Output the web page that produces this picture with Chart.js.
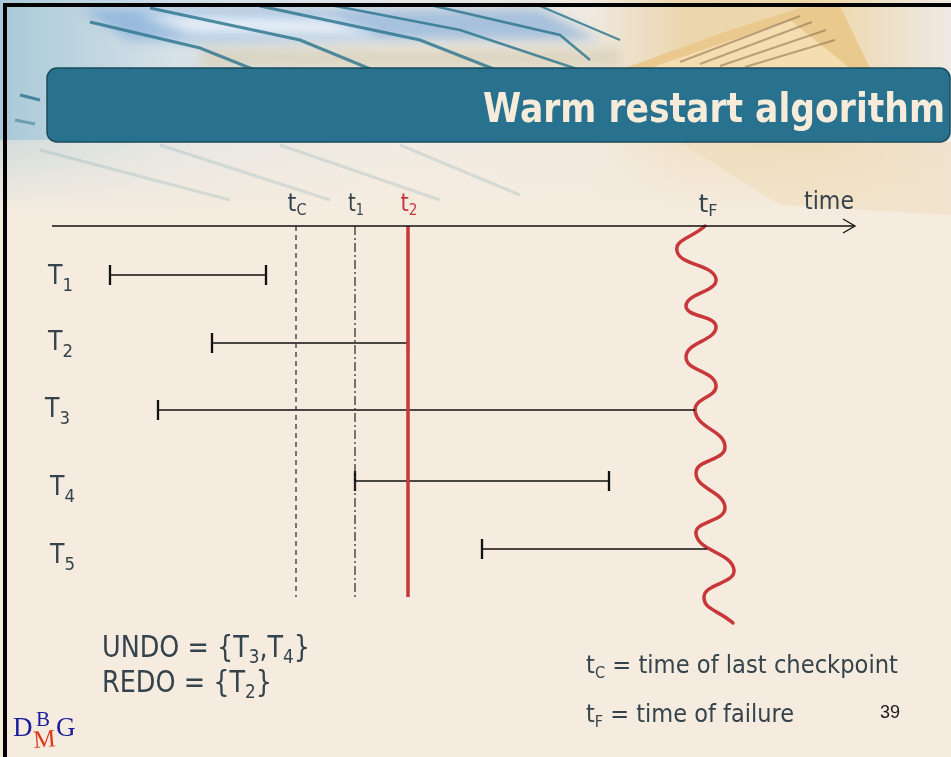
<!DOCTYPE html>
<html><head><meta charset="utf-8">
<script src="https://cdn.jsdelivr.net/npm/chart.js@4.4.1/dist/chart.umd.min.js"></script>
<style>html,body{margin:0;padding:0;background:#F5ECDF;overflow:hidden}canvas{display:block}</style>
</head><body>
<canvas id="c" width="951" height="757"></canvas>
<script>
// ---- data (time units = horizontal position on the time axis, lanes = vertical position) ----
const transactions = ['T1', 'T2', 'T3', 'T4', 'T5'];
const txStart = [110, 212, 158, 355, 482];
const txEnd   = [266, 408, 695, 609, 707];
const txLane  = [275, 343, 410, 481, 549];
const txCommitted = [true, true, false, true, false]; // end tick drawn when the transaction ended before failure
const markerNames = ['tC', 't1', 't2'];
const markerTimes = [296, 355, 408];
const failureName = 'tF';
const failureTime = 705;
const axisRange = [52, 855];
const axisLane = 226;
const markerBottomLane = 597;
const failureWaveX = [705, 677, 716, 686, 716, 686, 716, 695, 725, 696, 725, 696, 734, 704, 733];
const failureWaveY = [226, 251, 279, 306, 327, 357, 385, 411, 447, 473, 508, 534, 570, 597, 623];
const undoSet = ['T3', 'T4'];
const redoSet = ['T2'];
const slideTitle = 'Warm restart algorithm';
const legendLines = [['tC', 'time of last checkpoint'], ['tF', 'time of failure']];
const pageNumber = '39';

// ---- styles ----
const RED = '#C8373A';
const INK = '#34434C';
const FONT = 'DejaVu Sans';

const datasets = [];
// time axis
datasets.push({ data: [{x: axisRange[0], y: axisLane}, {x: axisRange[1], y: axisLane}],
  borderColor: '#111', borderWidth: 1.3, pointRadius: 0 });
// arrow head
datasets.push({ data: [{x: axisRange[1] - 12, y: axisLane - 7}, {x: axisRange[1], y: axisLane}, {x: axisRange[1] - 12, y: axisLane + 7}],
  borderColor: '#111', borderWidth: 1.3, pointRadius: 0 });
// checkpoint / marker lines
const markerStyles = [
  { borderColor: '#333', borderWidth: 1.3, borderDash: [5, 4] },
  { borderColor: '#333', borderWidth: 1.3, borderDash: [9, 3, 2, 3] },
  { borderColor: RED, borderWidth: 3.5, borderDash: [] }
];
markerTimes.forEach((t, i) => {
  datasets.push(Object.assign({ data: [{x: t, y: axisLane}, {x: t, y: markerBottomLane}], pointRadius: 0 }, markerStyles[i]));
});
// transactions
transactions.forEach((name, i) => {
  datasets.push({
    data: [{x: txStart[i], y: txLane[i]}, {x: txEnd[i], y: txLane[i]}],
    borderColor: '#111', borderWidth: 1.6,
    pointStyle: 'line', rotation: 90,
    pointRadius: [10, txCommitted[i] ? 10 : 0],
    pointBorderColor: '#111', pointBorderWidth: 2.3
  });
});
// failure wave
datasets.push({
  data: failureWaveX.map((x, i) => ({x, y: failureWaveY[i]})),
  borderColor: RED, borderWidth: 3.5, pointRadius: 0, tension: 0.5,
  borderCapStyle: 'round', borderJoinStyle: 'round'
});

function parseLabel(s) { return [{t: s[0]}, {t: s.slice(1), sub: true}]; }

function drawRich(ctx, parts, x, y, size, color, targetW, opts) {
  opts = opts || {};
  const fam = opts.family || FONT, weight = opts.weight || 'normal';
  const subR = opts.subRatio || 0.66, subOff = opts.subOff || 0.22;
  const widths = parts.map(p => {
    ctx.font = `${weight} ${p.sub ? size * subR : size}px "${fam}"`;
    return ctx.measureText(p.t).width;
  });
  const w = widths.reduce((a, b) => a + b, 0);
  const s = targetW ? targetW / w : 1;
  ctx.save();
  let x0 = x;
  if (opts.align === 'center') x0 = x - (targetW || w) / 2;
  if (opts.align === 'right') x0 = x - (targetW || w);
  ctx.translate(x0, y); ctx.scale(s, 1);
  ctx.textBaseline = 'alphabetic'; ctx.textAlign = 'left';
  let cx = 0;
  parts.forEach((p, i) => {
    ctx.font = `${weight} ${p.sub ? size * subR : size}px "${fam}"`;
    ctx.fillStyle = p.color || color;
    ctx.fillText(p.t, cx, p.sub ? size * subOff : 0);
    cx += widths[i];
  });
  ctx.restore();
}

function setParts(label, set) {
  const parts = [{t: label + ' = {'}];
  set.forEach((n, i) => {
    parts.push({t: n[0]}); parts.push({t: n.slice(1), sub: true});
    if (i < set.length - 1) parts.push({t: ','});
  });
  parts.push({t: '}'});
  return parts;
}

function stroke(ctx, pts, color, width) {
  ctx.strokeStyle = color; ctx.lineWidth = width;
  ctx.beginPath(); ctx.moveTo(pts[0], pts[1]);
  for (let i = 2; i < pts.length; i += 2) ctx.lineTo(pts[i], pts[i + 1]);
  ctx.stroke();
}

const backgroundPlugin = {
  id: 'slideBackground',
  beforeDraw(chart) {
    const ctx = chart.ctx;
    ctx.save();
    ctx.fillStyle = '#F5ECDF';
    ctx.fillRect(0, 0, 951, 757);
    // header photo impression
    let g = ctx.createLinearGradient(0, 0, 951, 0);
    g.addColorStop(0, '#A9C9D8');
    g.addColorStop(0.18, '#D6E1E8');
    g.addColorStop(0.4, '#ECEAE6');
    g.addColorStop(0.62, '#EFE9E0');
    g.addColorStop(0.72, '#EBD6AE');
    g.addColorStop(0.86, '#EED7A9');
    g.addColorStop(1, '#EDE9E3');
    ctx.fillStyle = g;
    ctx.fillRect(0, 0, 951, 210);
    // blurry pale-blue band (spreadsheet header)
    ctx.filter = 'blur(6px)';
    ctx.fillStyle = 'rgba(110,160,215,0.55)';
    ctx.beginPath(); ctx.moveTo(80, 8); ctx.lineTo(540, 8); ctx.lineTo(600, 40); ctx.lineTo(130, 40); ctx.closePath(); ctx.fill();
    ctx.fillStyle = 'rgba(255,255,255,0.75)';
    ctx.beginPath(); ctx.moveTo(140, 14); ctx.lineTo(330, 18); ctx.lineTo(380, 36); ctx.lineTo(190, 34); ctx.closePath(); ctx.fill();
    ctx.fillStyle = 'rgba(215,205,180,0.7)';
    ctx.fillRect(200, 48, 420, 20);
    ctx.filter = 'none';
    // fade into page colour below the bar
    let f = ctx.createLinearGradient(0, 140, 0, 215);
    f.addColorStop(0, 'rgba(245,236,223,0.55)');
    f.addColorStop(1, 'rgba(245,236,223,1)');
    ctx.fillStyle = f;
    ctx.fillRect(0, 140, 951, 75);
    // teal diagonal strokes
    const teal = 'rgba(40,115,140,0.8)';
    stroke(ctx, [90, 22, 200, 48, 330, 100], teal, 3);
    stroke(ctx, [150, 8, 300, 40, 470, 110], teal, 3);
    stroke(ctx, [260, 6, 420, 40, 560, 95], teal, 3);
    stroke(ctx, [330, 5, 460, 30, 640, 90], teal, 2.5);
    stroke(ctx, [430, 5, 560, 35, 590, 60], teal, 2.5);
    stroke(ctx, [540, 6, 620, 40], teal, 2);
    stroke(ctx, [20, 95, 40, 100], teal, 3);
    stroke(ctx, [15, 120, 35, 124], 'rgba(40,115,140,0.5)', 3);
    const faint = 'rgba(40,115,140,0.14)';
    [[40, 150, 230, 200], [160, 145, 330, 200], [280, 145, 440, 200], [400, 145, 520, 195]].forEach(l => stroke(ctx, l, faint, 3));
    // folders top right
    ctx.fillStyle = '#EAC98E';
    ctx.beginPath(); ctx.moveTo(625, 68); ctx.lineTo(730, 30); ctx.lineTo(800, 8); ctx.lineTo(840, 6); ctx.lineTo(870, 68); ctx.closePath(); ctx.fill();
    ctx.fillStyle = '#F4DDAE';
    ctx.beginPath(); ctx.moveTo(650, 68); ctx.lineTo(790, 20); ctx.lineTo(850, 68); ctx.closePath(); ctx.fill();
    [[680, 62, 800, 16], [700, 64, 812, 22], [720, 66, 826, 30], [745, 67, 835, 40]].forEach(l => stroke(ctx, l, 'rgba(140,105,80,0.55)', 2));
    ctx.fillStyle = 'rgba(235,212,170,0.35)';
    ctx.beginPath(); ctx.moveTo(680, 142); ctx.lineTo(951, 142); ctx.lineTo(951, 215); ctx.lineTo(780, 205); ctx.closePath(); ctx.fill();
    // title bar
    ctx.beginPath();
    ctx.roundRect(47, 68, 903, 74, 10);
    ctx.fillStyle = '#28718F';
    ctx.fill();
    ctx.strokeStyle = '#1B4B5C'; ctx.lineWidth = 1.5; ctx.stroke();
    // borders
    ctx.fillStyle = '#000';
    ctx.fillRect(3, 3, 948, 4);
    ctx.fillRect(3, 3, 4, 754);
    ctx.restore();
  },
  afterDraw(chart) {
    const ctx = chart.ctx;
    const xs = chart.scales.x, ys = chart.scales.y;
    // title
    drawRich(ctx, [{t: slideTitle}], 483, 122, 41, '#F6ECD9', 462, {weight: 'bold'});
    // marker labels
    const markerColors = [INK, INK, RED];
    markerNames.forEach((n, i) => {
      drawRich(ctx, parseLabel(n), xs.getPixelForValue(markerTimes[i]) + 1, 211, 25, markerColors[i], [19, 16, 17][i], {align: 'center', subRatio: 0.64, subOff: 0.17});
    });
    drawRich(ctx, parseLabel(failureName), xs.getPixelForValue(failureTime) + 3, 212, 25, INK, 19, {align: 'center', subRatio: 0.64, subOff: 0.17});
    drawRich(ctx, [{t: 'time'}], xs.getPixelForValue(axisRange[1]) - 1, 209, 25, INK, 50, {align: 'right'});
    // transaction labels
    const lx = [48, 48, 45, 50, 50];
    const off = [9, 7, 7, 14, 14];
    transactions.forEach((n, i) => {
      drawRich(ctx, parseLabel(n), lx[i], ys.getPixelForValue(txLane[i]) + off[i], 26, INK, 25, {subRatio: 0.7, subOff: 0.25});
    });
    // UNDO / REDO
    drawRich(ctx, setParts('UNDO', undoSet), 102, 657, 30, INK, 208, {subRatio: 0.66, subOff: 0.2});
    drawRich(ctx, setParts('REDO', redoSet), 102, 692, 30, INK, 170, {subRatio: 0.66, subOff: 0.2});
    // legend lines
    const lw = [312, 208], lb = [673, 722];
    legendLines.forEach((l, i) => {
      const parts = parseLabel(l[0]); parts.push({t: ' = ' + l[1]});
      drawRich(ctx, parts, 586, lb[i], 25.5, INK, lw[i], {subRatio: 0.64, subOff: 0.2});
    });
    // page number
    drawRich(ctx, [{t: pageNumber}], 880, 718, 18, '#1A1A1A', 20, {family: 'Liberation Sans'});
    // logo
    ctx.save();
    ctx.textBaseline = 'alphabetic';
    ctx.fillStyle = '#1C1C9C';
    ctx.font = '27px "Liberation Serif"';
    ctx.fillText('D', 13, 736);
    ctx.font = '21px "Liberation Serif"';
    ctx.fillText('B', 36, 726);
    ctx.font = '27px "Liberation Serif"';
    ctx.fillText('G', 56, 736);
    ctx.fillStyle = '#E03A1E';
    ctx.translate(45, 747); ctx.rotate(-0.08);
    ctx.font = '25px "Liberation Serif"';
    ctx.textAlign = 'center';
    ctx.fillText('M', 0, 0);
    ctx.restore();
  }
};

new Chart(document.getElementById('c'), {
  type: 'scatter',
  data: { datasets: datasets.map(d => Object.assign({ showLine: true, fill: false }, d)) },
  options: {
    responsive: false,
    animation: false,
    events: [],
    layout: { padding: 0, autoPadding: false },
    plugins: { legend: { display: false }, tooltip: { enabled: false } },
    scales: {
      x: { type: 'linear', min: 0, max: 951, display: false },
      y: { type: 'linear', min: 0, max: 757, reverse: true, display: false }
    }
  },
  plugins: [backgroundPlugin]
});
</script>
</body></html>
